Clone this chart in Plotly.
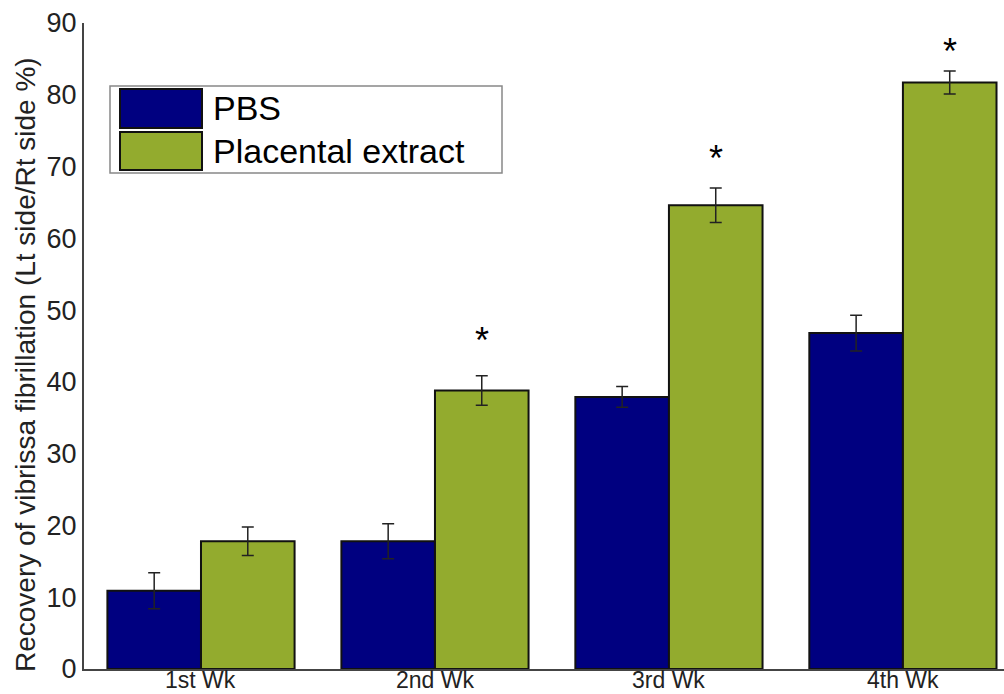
import plotly.graph_objects as go

# Weekly recovery of vibrissa fibrillation (Lt side / Rt side, %)
weeks = ["1st Wk", "2nd Wk", "3rd Wk", "4th Wk"]
pbs_mean = [10.9, 17.8, 37.9, 46.8]
pbs_err = [2.5, 2.45, 1.45, 2.5]
extract_mean = [17.8, 38.8, 64.6, 81.7]
extract_err = [2.0, 2.05, 2.4, 1.6]
significance = ["", "*", "*", "*"]
star_level = [0, 45.7, 71.1, 86.0]
y_ticks = [0, 10, 20, 30, 40, 50, 60, 70, 80, 90]

navy = "#000080"
olive = "#93AB2E"
text_color = "#222222"
font_family = "Liberation Sans, Arial, sans-serif"

fig = go.Figure()

fig.add_trace(go.Bar(
    name="PBS", x=weeks, y=pbs_mean, marker=dict(color=navy, line=dict(color="#111111", width=2)),
    error_y=dict(type="data", array=pbs_err, color=text_color, thickness=1.5, width=6),
))
fig.add_trace(go.Bar(
    name="Placental extract", x=weeks, y=extract_mean,
    marker=dict(color=olive, line=dict(color="#111111", width=2)),
    error_y=dict(type="data", array=extract_err, color=text_color, thickness=1.5, width=6),
))

# significance markers above the extract bars
for i, (w, s) in enumerate(zip(weeks, significance)):
    if s:
        fig.add_annotation(
            x=i + 0.2, y=star_level[i], xref="x", yref="y", text=s, showarrow=False,
            font=dict(size=36, color="black", family=font_family), yanchor="middle",
        )

# week labels tucked just under the category axis
for w in weeks:
    fig.add_annotation(
        x=w, y=0, xref="x", yref="y", text=w, showarrow=False,
        xanchor="center", yanchor="top", yshift=3, borderpad=0,
        font=dict(size=23, color=text_color, family=font_family),
    )

W, H = 1004, 694
ml, mr, mt, mb = 84, 0, 23, 25
pw, ph = W - ml - mr, H - mt - mb


def px(xp):
    return (xp - ml) / pw


def py(yp):
    return 1 - (yp - mt) / ph


# vertical axis title
fig.add_annotation(
    x=px(25), y=py(365), xref="paper", yref="paper", textangle=-90, showarrow=False,
    text="Recovery of vibrissa fibrillation (Lt side/Rt side %)",
    xanchor="center", yanchor="middle",
    font=dict(size=28, color=text_color, family=font_family),
)

# legend box drawn in paper space
fig.add_shape(type="rect", xref="paper", yref="paper",
              x0=px(110), x1=px(502), y0=py(173), y1=py(86),
              line=dict(color="#888888", width=1.5), fillcolor="white", layer="above")
entries = [("PBS", navy, 89, 128, 108), ("Placental extract", olive, 132, 170, 151)]
for label, col, top, bot, mid in entries:
    fig.add_shape(type="rect", xref="paper", yref="paper",
                  x0=px(120), x1=px(202), y0=py(bot), y1=py(top),
                  line=dict(color="#111111", width=2), fillcolor=col, layer="above")
    fig.add_annotation(x=px(211), y=py(mid), xref="paper", yref="paper", text=label,
                       showarrow=False, xanchor="left", yanchor="middle",
                       font=dict(size=34, color="black", family=font_family))

fig.update_layout(
    width=W, height=H,
    margin=dict(l=ml, r=mr, t=mt, b=mb, autoexpand=False),
    barmode="group", bargap=0.2, bargroupgap=0,
    plot_bgcolor="white", paper_bgcolor="white",
    showlegend=False,
    font=dict(family=font_family, color=text_color),
    xaxis=dict(
        range=[-0.5, 3.432], showline=True, linecolor="#444444", linewidth=2,
        ticks="", showgrid=False, zeroline=False, automargin=False,
        showticklabels=False,
    ),
    yaxis=dict(
        range=[0, 90], tickvals=y_ticks, showline=True, linecolor="#444444", linewidth=2,
        ticks="", showgrid=False, zeroline=False, automargin=False,
        tickfont=dict(size=27, color=text_color, family=font_family),
    ),
)

fig.write_html("out.html")
